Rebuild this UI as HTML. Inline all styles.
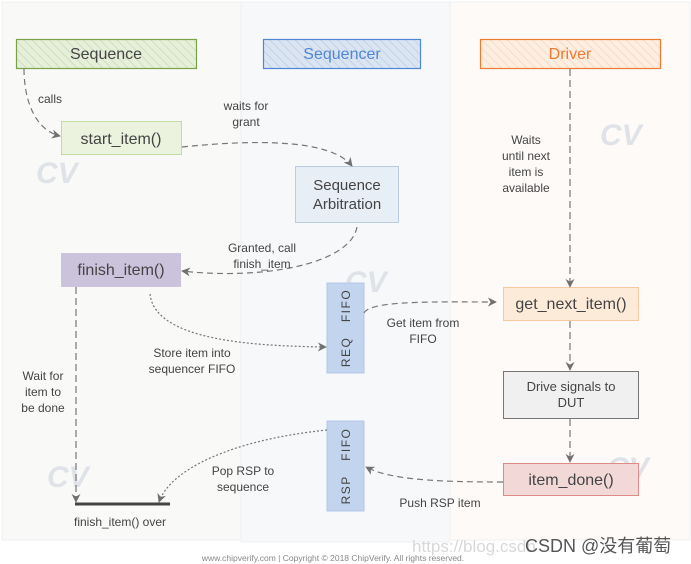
<!DOCTYPE html>
<html><head><meta charset="utf-8">
<style>
html,body{margin:0;padding:0;background:#fff;}
svg{display:block;font-family:"Liberation Sans","Noto Sans CJK SC",sans-serif;}
</style></head>
<body>
<svg width="691" height="564" viewBox="0 0 691 564" xmlns="http://www.w3.org/2000/svg">
<defs>
<pattern id="hg" width="6" height="6" patternUnits="userSpaceOnUse" patternTransform="rotate(-45)"><rect width="6" height="6" fill="#e6efd9"/><line x1="0" y1="0" x2="0" y2="6" stroke="#d0dfbf" stroke-width="2"/></pattern>
<pattern id="hb" width="6" height="6" patternUnits="userSpaceOnUse" patternTransform="rotate(-45)"><rect width="6" height="6" fill="#dbe5f2"/><line x1="0" y1="0" x2="0" y2="6" stroke="#c3d2e8" stroke-width="2"/></pattern>
<pattern id="ho" width="6" height="6" patternUnits="userSpaceOnUse" patternTransform="rotate(-45)"><rect width="6" height="6" fill="#fdeee2"/><line x1="0" y1="0" x2="0" y2="6" stroke="#f8dcc6" stroke-width="2"/></pattern>
<marker id="ar" viewBox="0 0 10 10" refX="9" refY="5" markerWidth="9" markerHeight="9" orient="auto-start-reverse" markerUnits="userSpaceOnUse"><path d="M0,0 L10,5 L0,10 L3,5 z" fill="#707070"/></marker>
</defs>
<rect x="0" y="0" width="691" height="564" fill="#fff"/>
<rect x="2" y="2" width="239" height="538" fill="#f9f9f8" stroke="#f0f0f0"/>
<rect x="241" y="2" width="209" height="540" fill="#f7f8fa" stroke="#f0f0f0"/>
<rect x="450" y="2" width="240" height="538" fill="#fdfaf8" stroke="#f0f0f0"/>

<!-- watermarks -->
<g font-size="30" font-weight="bold" fill="#dfe3e8" font-style="italic">
<text x="36" y="183">CV</text>
<text x="600" y="145">CV</text>
<text x="345" y="292">CV</text>
<text x="47" y="487">CV</text>
<text x="607" y="478">CV</text>
</g>

<!-- headers -->
<rect x="16.5" y="39.5" width="180" height="29" fill="url(#hg)" stroke="#7aa246" stroke-width="1.2"/>
<text x="106" y="59" font-size="16" fill="#444" text-anchor="middle">Sequence</text>
<rect x="263.5" y="39.5" width="157" height="29" fill="url(#hb)" stroke="#4f86d6" stroke-width="1.2"/>
<text x="342" y="59" font-size="16" fill="#4f86d6" text-anchor="middle">Sequencer</text>
<rect x="480.5" y="39.5" width="180" height="29" fill="url(#ho)" stroke="#ee7a30" stroke-width="1.2"/>
<text x="570" y="59" font-size="16" fill="#ee7a30" text-anchor="middle">Driver</text>

<!-- boxes -->
<rect x="61.5" y="121.5" width="120" height="33" fill="#ebf3df" stroke="#c3dba6"/>
<text x="121" y="144" font-size="16" fill="#444" text-anchor="middle">start_item()</text>
<rect x="295.5" y="166.5" width="103" height="56" fill="#e8eef6" stroke="#b9cce3"/>
<text x="347" y="190" font-size="15" fill="#444" text-anchor="middle">Sequence</text>
<text x="347" y="209" font-size="15" fill="#444" text-anchor="middle">Arbitration</text>
<rect x="61" y="253" width="120" height="34" fill="#cbc2dc"/>
<text x="121" y="275" font-size="16" fill="#444" text-anchor="middle">finish_item()</text>
<rect x="327" y="283" width="37" height="90" fill="#c3d5ee" stroke="#b2c8e8"/>
<text transform="translate(350,328) rotate(-90)" font-size="12" fill="#444" text-anchor="middle" letter-spacing="1.5" xml:space="preserve">REQ   FIFO</text>
<rect x="327" y="421" width="37" height="90" fill="#c3d5ee" stroke="#b2c8e8"/>
<text transform="translate(350,466) rotate(-90)" font-size="12" fill="#444" text-anchor="middle" letter-spacing="1.5" xml:space="preserve">RSP   FIFO</text>
<rect x="503.5" y="287.5" width="135" height="33" fill="#fdebda" stroke="#f7c9a1"/>
<text x="571" y="309" font-size="16" fill="#444" text-anchor="middle">get_next_item()</text>
<rect x="503.5" y="371.5" width="135" height="47" fill="#f0f0f0" stroke="#777"/>
<text x="571" y="391" font-size="13" fill="#444" text-anchor="middle">Drive signals to</text>
<text x="571" y="407" font-size="13" fill="#444" text-anchor="middle">DUT</text>
<rect x="503.5" y="463.5" width="135" height="32" fill="#f2d9d8" stroke="#df8a86"/>
<text x="571" y="485" font-size="16" fill="#444" text-anchor="middle">item_done()</text>

<!-- connectors -->
<g fill="none" stroke="#777" stroke-width="1.2">
<path d="M24,69 C24,100 35,130 60,136" stroke-dasharray="6,4" marker-end="url(#ar)"/>
<path d="M182,147 C250,140 330,138 352,166" stroke-dasharray="6,4" marker-end="url(#ar)"/>
<path d="M357,227 C350,265 260,280 182,271" stroke-dasharray="6,4" marker-end="url(#ar)"/>
<path d="M76,287 L76,502" stroke-dasharray="7,4" marker-end="url(#ar)"/>
<path d="M150,294 C155,340 250,346 326,347" stroke-dasharray="2,2" marker-end="url(#ar)"/>
<path d="M364,313 C370,300 440,302 496,302" stroke-dasharray="6,4" marker-end="url(#ar)"/>
<path d="M570,69 L570,287" stroke-dasharray="7,4" marker-end="url(#ar)"/>
<path d="M570,321 L570,370" stroke-dasharray="7,4" marker-end="url(#ar)"/>
<path d="M570,419 L570,462" stroke-dasharray="7,4" marker-end="url(#ar)"/>
<path d="M503,482 C440,482 390,480 366,467" stroke-dasharray="6,4" marker-end="url(#ar)"/>
<path d="M327,430 C230,440 170,470 159,502" stroke-dasharray="2,2" marker-end="url(#ar)"/>
</g>
<line x1="75" y1="504" x2="170" y2="504" stroke="#444" stroke-width="3"/>

<!-- labels -->
<g font-size="12" fill="#444" text-anchor="middle">
<text x="50" y="103">calls</text>
<text x="246" y="110">waits for</text>
<text x="246" y="126">grant</text>
<text x="262" y="252">Granted, call</text>
<text x="262" y="268">finish_item</text>
<text x="526" y="144">Waits</text>
<text x="526" y="160">until next</text>
<text x="526" y="176">item is</text>
<text x="526" y="192">available</text>
<text x="423" y="327">Get item from</text>
<text x="423" y="343">FIFO</text>
<text x="192" y="357">Store item into</text>
<text x="192" y="373">sequencer FIFO</text>
<text x="43" y="380">Wait for</text>
<text x="43" y="396">item to</text>
<text x="43" y="412">be done</text>
<text x="243" y="475">Pop RSP to</text>
<text x="243" y="491">sequence</text>
<text x="440" y="507">Push RSP item</text>
<text x="120" y="526">finish_item() over</text>
</g>
<text x="333" y="561" font-size="8.5" fill="#888" text-anchor="middle">www.chipverify.com | Copyright © 2018 ChipVerify. All rights reserved.</text>
<text x="412" y="552" font-size="17" fill="#d8d8d8">https://blog.csdn</text>
<text x="525" y="552" font-size="18" fill="#555">CSDN @没有葡萄</text>
</svg>
</body></html>
